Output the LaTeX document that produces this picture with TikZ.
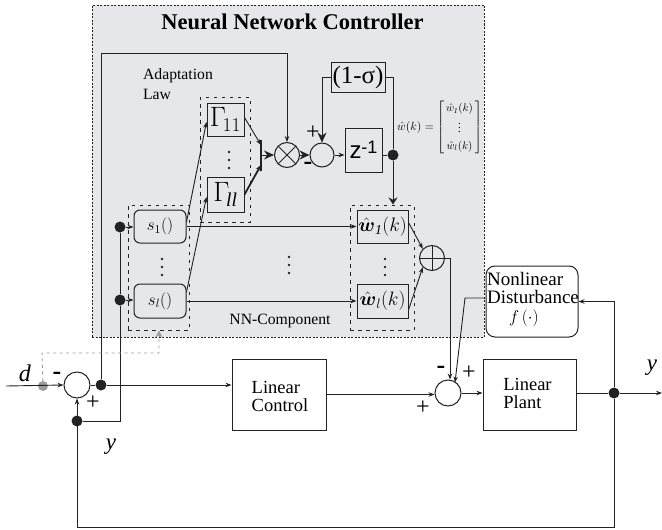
\RequirePackage{fix-cm}
\documentclass[tikz,border=0pt]{standalone}
\usepackage{amsmath}
\usepackage{fontspec}
\setmainfont{Liberation Serif}
\newfontfamily\zfont{Liberation Sans}
\usetikzlibrary{arrows.meta,calc}
\definecolor{panel}{HTML}{E6E7E9}
\definecolor{ink}{HTML}{222222}
\definecolor{greyline}{HTML}{9C9C9C}
\newcommand{\fs}[1]{\fontsize{#1}{#1}\selectfont}
\tikzset{
 wire/.style={draw=ink,line width=0.9pt},
 arr/.style={wire,-{Stealth[length=6pt,width=4.5pt]}},
 bigarr/.style={wire,-{Stealth[length=10pt,width=9pt]}},
 boxn/.style={draw=ink,line width=1pt,inner sep=0pt,align=center,text=black},
 rbox/.style={boxn,rounded corners=6pt},
 circ/.style={circle,draw=ink,line width=1pt,inner sep=0pt,fill=none},
 dotn/.style={circle,fill=ink,inner sep=0pt,minimum size=11pt},
 grp/.style={draw=ink,line width=1pt,dash pattern=on 3.5pt off 4.5pt,inner sep=0pt},
 txt/.style={inner sep=0pt,text=black,align=left},
 vdot/.style={inner sep=0pt,text=ink},
}
\newcommand{\vd}{\tikz[baseline=0pt]{\fill[ink] (0,0) circle (1.3pt) (0,8pt) circle (1.3pt) (0,16pt) circle (1.3pt);}}
\begin{document}
\begin{tikzpicture}[x=1pt,y=-1pt]
\useasboundingbox (0,0) rectangle (662,530);
% panel
\node[draw=ink,fill=panel,line width=0.9pt,dash pattern=on 2pt off 1.5pt,inner sep=0pt,minimum width=392pt,minimum height=332pt] (panel) at (288,171) {};
\node[txt] (title) at (292.5,22) {\fs{22.5}\bfseries Neural Network Controller};
\node[txt] (adapt) at (178,84) {\fs{15.7}Adaptation\\[6pt]\fs{15.7}Law};
% groups
\node[grp,minimum width=50pt,minimum height=125pt] (ggrp) at (225,159.5) {};
\node[grp,minimum width=61pt,minimum height=125pt] (sgrp) at (158.5,267.5) {};
\node[grp,minimum width=64pt,minimum height=125pt] (wgrp) at (382,267.5) {};
% boxes
\node[boxn,minimum width=37pt,minimum height=33pt] (g11) at (225.5,119.5) {\fs{28}$\Gamma_{\!11}$};
\node[boxn,minimum width=37pt,minimum height=35pt] (gll) at (225.5,194.5) {\fs{28}$\Gamma_{\!\mathit{ll}}$};
\node[rbox,minimum width=52pt,minimum height=33pt] (s1) at (160,226.5) {\fs{17}$s_1()$};
\node[rbox,minimum width=52pt,minimum height=34pt] (sl) at (160,301) {\fs{17}$s_l()$};
\node[boxn,minimum width=51pt,minimum height=33pt] (w1) at (382.5,226.5) {\fs{19.5}$\hat{\boldsymbol{w}}_{\mathit{1}}(k)$};
\node[boxn,minimum width=51pt,minimum height=34pt] (wl) at (382.5,301) {\fs{19.5}$\hat{\boldsymbol{w}}_{l}(k)$};
\node[boxn,minimum width=37pt,minimum height=44pt] (zb) at (363.5,150) {\zfont\fs{24}z\raisebox{5pt}{\fs{18}-1}};
\node[boxn,minimum width=54pt,minimum height=30pt] (sig) at (358,77) {\fs{25}(1-σ)};
\node[boxn,minimum width=94pt,minimum height=71pt] (lc) at (279,394.5) {};
\node[txt] (lctext) at (280,396) {\fs{18.5}Linear\\[4pt]\fs{18.5}Control};
\node[boxn,minimum width=93pt,minimum height=71pt] (lp) at (529.5,394.5) {};
\node[txt] (lptext) at (527.5,393) {\fs{18.5}Linear\\[4pt]\fs{18.5}Plant};
\node[boxn,rounded corners=9pt,minimum width=92pt,minimum height=71pt,fill=white] (nd) at (532,301.5) {};
\node[txt] (ndtext) at (533,299.5) {\fs{19}Nonlinear\\[3pt]\fs{19}Disturbance\\[5pt]\fs{17}\hspace{22pt}$f\,(\cdot)$};
% circles
\node[circ,minimum size=25pt] (mul) at (287,155) {};
\draw[ink,line width=1pt] (mul.north west)--(mul.south east) (mul.north east)--(mul.south west);
\node[circ,minimum size=24pt] (sm) at (322,155) {};
\node[circ,minimum size=25pt] (add) at (432,258) {};
\draw[ink,line width=1pt] (add.north)--(add.south) (add.west)--(add.east);
\node[circ,minimum size=26pt] (c1) at (77,385) {};
\node[circ,minimum size=26pt] (c2) at (448,393) {};
% junctions
\node[dotn] (jz) at (393,155) {};
\node[dotn] (js1) at (120,227) {};
\node[dotn] (jsl) at (120,300) {};
\node[dotn] (je) at (101,385) {};
\node[dotn] (jy) at (77,421) {};
\node[dotn] (jo) at (614,393) {};
\node[circle,fill=greyline,inner sep=0pt,minimum size=10pt] (jd) at (43,386) {};
% bar
\coordinate (bt) at (261,140); \coordinate (bb) at (261,171); \coordinate (bm) at (261,155);
\draw[ink,line width=2pt] (bt)--(bb);
% coordinates
\coordinate (inp) at (6,386);
\coordinate (out) at (662,393);
\coordinate (tl) at (101,53);
\coordinate (bl) at (77,527);
\coordinate (br) at (614,527);
\coordinate (dk1) at (42,353);
\coordinate (dk2) at (159,353);
\coordinate (nk) at (465,298);
% adaptive wires
\draw[arr] (je) -- (tl) -| (mul.north);
\draw[bigarr] (sig.west) -| (sm.north);
\draw[wire] (sig.east) -| (jz);
\draw[wire] (zb.east |- jz) -- (jz);
\draw[wire,-{Stealth[length=7pt,width=9pt]}] (jz) -- (wgrp.north -| jz);
\draw[arr] (sm.east) -- (sm.east -| zb.west);
\draw[bigarr] (bm) -- (mul.west);
\draw[bigarr] (mul.east) -- (sm.west);
\draw[arr] ([yshift=2pt]g11.east) -- ([yshift=10pt]bm);
\draw[wire,line width=1.8pt,-{Stealth[length=6pt,width=5pt]}] (gll.east) -- ([yshift=-10pt]bm);
\draw[arr] ([yshift=4.5pt]s1.east) -- ([yshift=-2.5pt]g11.west);
\draw[arr] ([yshift=9pt]sl.east) -- ([yshift=-2.5pt]gll.west);
\draw[arr] (s1.east) -- (s1.east -| w1.west);
\draw[arr] (sl.east) -- (sl.east -| wl.west);
\draw[arr] ([yshift=4pt]w1.east) -- (add.north west);
\draw[arr] ([yshift=-9pt]wl.east) -- (add.south west);
\draw[arr] (js1) -- (s1.west |- js1);
\draw[arr] (jsl) -- (sl.west |- jsl);
\draw[wire] (js1) -- (jsl);
\draw[wire] (jsl) |- (jy);
% main loop
\draw[arr] (inp) -- (c1.west);
\draw[wire] (c1.east) -- (je);
\draw[arr] (je) -- (lc.west |- je);
\draw[arr] (lc.east) -- (c2.west |- lc.east);
\draw[arr] (c2.east) -- (lp.west |- c2);
\draw[wire] (lp.east |- jo) -- (jo);
\draw[arr] (jo) -- (out);
\draw[arr] (jo) |- (nd.east);
\draw[arr] (jo) -- (br) -- (bl) -- (c1.south);
\draw[arr] (add.east) -- ++(5,0) coordinate (ak) -- (ak |- c2.north);
\draw[arr] (nd.west) ++(0,-3.5) -- (nk) -- ([xshift=7pt,yshift=-3pt]c2.north);
% disturbance path
\draw[greyline,line width=0.9pt,dash pattern=on 3pt off 3.5pt] (jd) -- (dk1) -- (dk2) -- ([yshift=-5pt]sgrp.south -| dk2);
\draw[greyline,line width=0.9pt,-{Stealth[length=7pt,width=7pt]}] ([yshift=-6pt]sgrp.south -| dk2) -- (sgrp.south -| dk2);
% labels
\node[txt] (mtx) at (459.5,127) {\fs{11}\renewcommand{\arraystretch}{1.55}$\left[\begin{array}{@{\,}c@{\,}}\hat{w}_{\mathit{1}}(k)\\ \vdots\\ \hat{w}_{l}(k)\end{array}\right]$};
\node[txt] (weq) at (415.5,127) {\fs{12}$\hat{w}(k)=$};
\node[txt] (nnc) at (280,320.5) {\fs{15.7}NN-Component};
\node[txt] (dy) at (25,373) {\fs{24}\itshape d};
\node[txt] (yy) at (111,447) {\fs{23}\itshape y};
\node[txt] (yo) at (652,368) {\fs{23}\itshape y};
\node[vdot] (d1) at (229,160) {\vd};
\node[vdot] (d2) at (162,267) {\vd};
\node[vdot] (d3) at (289,265) {\vd};
\node[vdot] (d4) at (385,267) {\vd};
% signs
\node[txt] (p1) at (93,403) {\fs{24}+};
\node[txt] (m1) at (57,376) {\fs{26}\bfseries -};
\node[txt] (p2) at (313,133) {\fs{24}+};
\node[txt] (m2) at (308,166) {\fs{26}\bfseries -};
\node[txt] (p3) at (423,408) {\fs{24}+};
\node[txt] (m3) at (441,370) {\fs{26}\bfseries -};
\node[txt] (p4) at (469,373) {\fs{24}+};
\end{tikzpicture}
\end{document}
